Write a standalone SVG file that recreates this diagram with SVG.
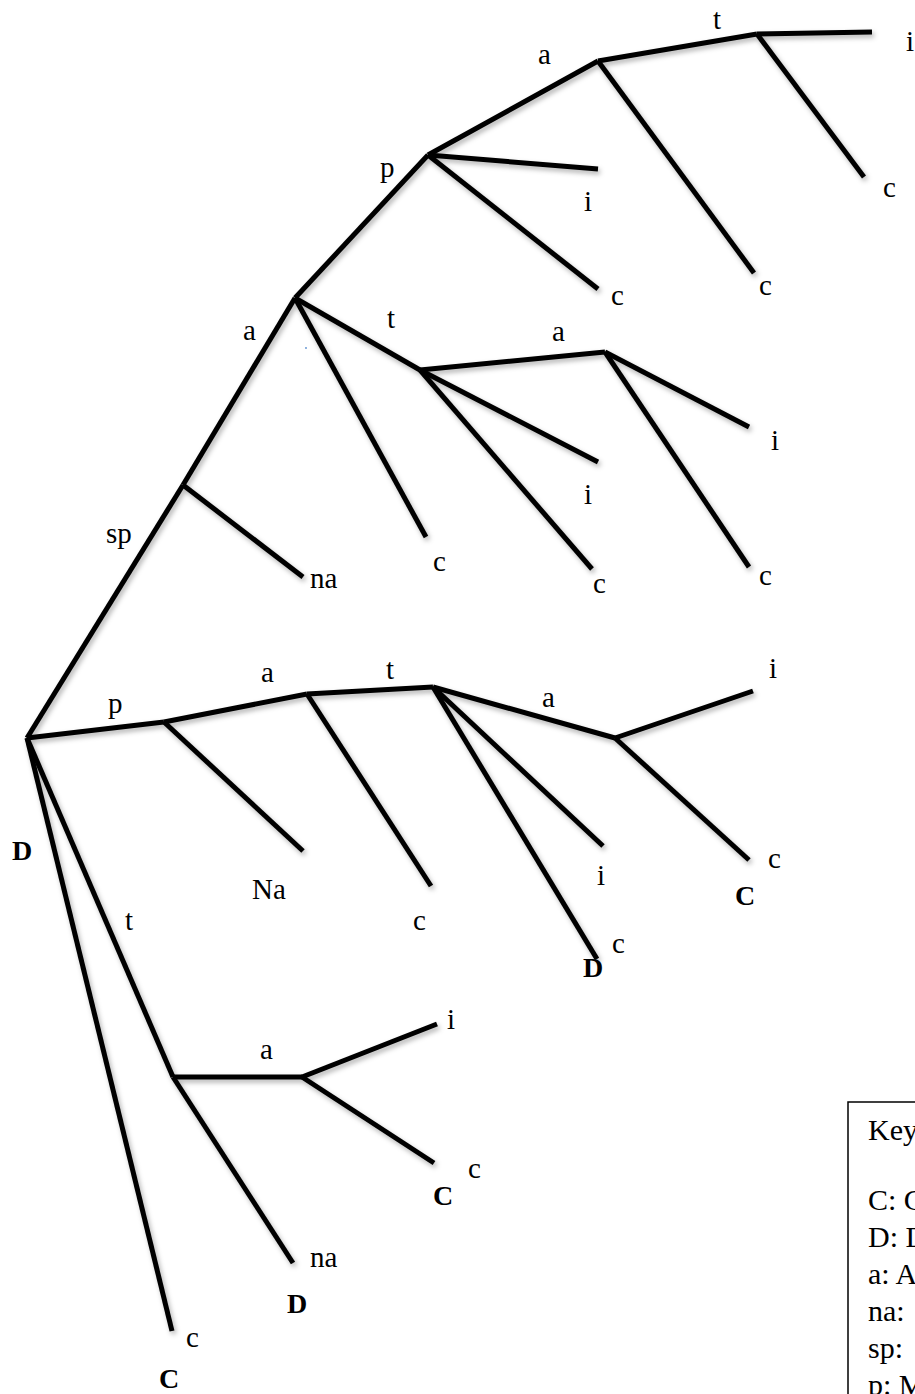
<svg xmlns="http://www.w3.org/2000/svg" width="915" height="1394" viewBox="0 0 915 1394">
<defs>
<filter id="shadow" x="-20%" y="-20%" width="140%" height="140%">
<feDropShadow dx="2" dy="3" stdDeviation="2.5" flood-color="#000" flood-opacity="0.3"/>
</filter>
<style>
.e{stroke:#000;stroke-width:5;fill:none;stroke-linecap:butt}
text{font-family:"Liberation Serif","Times New Roman",serif;font-size:29px;fill:#000}
.b{font-weight:bold;font-size:28px}
.k{font-size:30px}
</style>
</defs>
<rect width="915" height="1394" fill="#fff"/>
<g id="connectors" filter="url(#shadow)">
<line class="e" x1="27" y1="738" x2="183" y2="485"/>
<line class="e" x1="183" y1="485" x2="303" y2="577"/>
<line class="e" x1="183" y1="485" x2="295" y2="298"/>
<line class="e" x1="295" y1="298" x2="426" y2="537"/>
<line class="e" x1="295" y1="298" x2="420" y2="370"/>
<line class="e" x1="420" y1="370" x2="605" y2="352"/>
<line class="e" x1="420" y1="370" x2="598" y2="462"/>
<line class="e" x1="420" y1="370" x2="592" y2="569"/>
<line class="e" x1="605" y1="352" x2="749" y2="427"/>
<line class="e" x1="605" y1="352" x2="749" y2="567"/>
<line class="e" x1="295" y1="298" x2="428" y2="155"/>
<line class="e" x1="428" y1="155" x2="598" y2="169"/>
<line class="e" x1="428" y1="155" x2="598" y2="289"/>
<line class="e" x1="428" y1="155" x2="598" y2="61"/>
<line class="e" x1="598" y1="61" x2="754" y2="273"/>
<line class="e" x1="598" y1="61" x2="757" y2="34"/>
<line class="e" x1="757" y1="34" x2="872" y2="32"/>
<line class="e" x1="757" y1="34" x2="864" y2="177"/>
<line class="e" x1="27" y1="738" x2="164" y2="722"/>
<line class="e" x1="164" y1="722" x2="303" y2="851"/>
<line class="e" x1="164" y1="722" x2="307" y2="694"/>
<line class="e" x1="307" y1="694" x2="431" y2="886"/>
<line class="e" x1="307" y1="694" x2="433" y2="687"/>
<line class="e" x1="433" y1="687" x2="603" y2="846"/>
<line class="e" x1="433" y1="687" x2="597" y2="959"/>
<line class="e" x1="433" y1="687" x2="615" y2="738"/>
<line class="e" x1="615" y1="738" x2="753" y2="691"/>
<line class="e" x1="615" y1="738" x2="749" y2="860"/>
<line class="e" x1="27" y1="738" x2="173" y2="1077"/>
<line class="e" x1="173" y1="1077" x2="302" y2="1077"/>
<line class="e" x1="302" y1="1077" x2="437" y2="1024"/>
<line class="e" x1="302" y1="1077" x2="434" y2="1163"/>
<line class="e" x1="173" y1="1077" x2="293" y2="1263"/>
<line class="e" x1="27" y1="738" x2="172" y2="1331"/>
</g>
<circle cx="306" cy="348" r="0.9" fill="#5b8fd0"/>
<g id="n-root"><text class="b" x="12" y="860">D</text></g>
<g id="n-sp"><text x="106" y="543">sp</text></g>
<g id="n-na1"><text x="310" y="588">na</text></g>
<g id="n-a1"><text x="243" y="340">a</text></g>
<g id="n-c1"><text x="433" y="571">c</text></g>
<g id="n-t1"><text x="387" y="328">t</text></g>
<g id="n-a2"><text x="552" y="341">a</text></g>
<g id="n-i1"><text x="584" y="504">i</text></g>
<g id="n-c2"><text x="593" y="593">c</text></g>
<g id="n-i2"><text x="771" y="450">i</text></g>
<g id="n-c3"><text x="759" y="585">c</text></g>
<g id="n-p1"><text x="380" y="177">p</text></g>
<g id="n-i3"><text x="584" y="211">i</text></g>
<g id="n-c4"><text x="611" y="305">c</text></g>
<g id="n-a3"><text x="538" y="64">a</text></g>
<g id="n-c5"><text x="759" y="295">c</text></g>
<g id="n-t2"><text x="713" y="29">t</text></g>
<g id="n-i4"><text x="906" y="51">i</text></g>
<g id="n-c6"><text x="883" y="197">c</text></g>
<g id="n-p2"><text x="108" y="713">p</text></g>
<g id="n-a4"><text x="261" y="682">a</text></g>
<g id="n-t3"><text x="386" y="679">t</text></g>
<g id="n-Na"><text x="252" y="899">Na</text></g>
<g id="n-c7"><text x="413" y="930">c</text></g>
<g id="n-t4"><text x="125" y="930">t</text></g>
<g id="n-a5"><text x="542" y="707">a</text></g>
<g id="n-i5"><text x="769" y="678">i</text></g>
<g id="n-c8"><text x="768" y="868">c</text><text class="b" x="735" y="905">C</text></g>
<g id="n-i6"><text x="597" y="885">i</text></g>
<g id="n-c9"><text x="612" y="953">c</text><text class="b" x="583" y="977">D</text></g>
<g id="n-a6"><text x="260" y="1059">a</text></g>
<g id="n-i7"><text x="447" y="1029">i</text></g>
<g id="n-c10"><text x="468" y="1178">c</text><text class="b" x="433" y="1205">C</text></g>
<g id="n-na2"><text x="310" y="1267">na</text><text class="b" x="287" y="1313">D</text></g>
<g id="n-c11"><text x="186" y="1347">c</text><text class="b" x="159" y="1388">C</text></g>
<g id="key">
<rect x="848" y="1102" width="120" height="340" fill="none" stroke="#000" stroke-width="1.5"/>
<text class="k" x="868" y="1140">Key</text>
<text class="k" x="868" y="1210">C: C</text>
<text class="k" x="868" y="1247">D: D</text>
<text class="k" x="868" y="1284">a: A</text>
<text class="k" x="868" y="1321">na: </text>
<text class="k" x="868" y="1358">sp: </text>
<text class="k" x="868" y="1395">p: M</text>
</g>
</svg>
